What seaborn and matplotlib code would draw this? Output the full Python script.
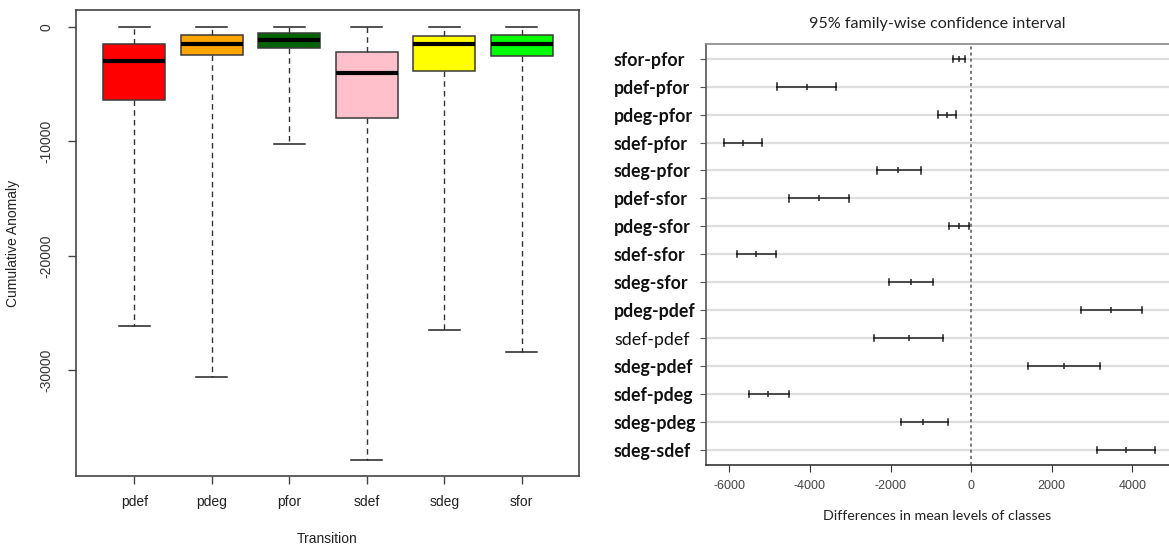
import matplotlib
matplotlib.use("Agg")
import matplotlib.pyplot as plt
import seaborn as sns
import pandas as pd
import numpy as np

# boxplot summary
transitions = ["pdef", "pdeg", "pfor", "sdef", "sdeg", "sfor"]
box_colors = ["#ff0000", "#ffa500", "#006400", "#ffc0cb", "#ffff00", "#00ff00"]
whisker_low = [-26100, -30550, -10250, -37800, -26450, -28400]
q1 = [-6400, -2440, -1830, -7990, -3840, -2530]
median = [-2960, -1520, -1130, -4050, -1520, -1520]
q3 = [-1520, -730, -580, -2250, -820, -730]
whisker_high = [-50, 0, 0, -50, 0, 0]

# Tukey HSD intervals
comparisons = ["sfor-pfor", "pdef-pfor", "pdeg-pfor", "sdef-pfor", "sdeg-pfor",
               "pdef-sfor", "pdeg-sfor", "sdef-sfor", "sdeg-sfor", "pdeg-pdef",
               "sdef-pdef", "sdeg-pdef", "sdef-pdeg", "sdeg-pdeg", "sdeg-sdef"]
diff_lwr = [-450, -4830, -830, -6130, -2340, -4510, -560, -5820, -2040, 2730,
            -2420, 1410, -5520, -1750, 3130]
diff_mean = [-295, -4070, -610, -5650, -1820, -3770, -295, -5340, -1500, 3480,
             -1550, 2300, -5030, -1190, 3850]
diff_upr = [-145, -3350, -380, -5180, -1240, -3040, -45, -4840, -940, 4230,
            -690, 3200, -4510, -580, 4570]

# five values per group give exactly these quartiles / whisker ends
rows = []
for i, t in enumerate(transitions):
    for v in [whisker_low[i], q1[i], median[i], q3[i], whisker_high[i]]:
        rows.append({"Transition": t, "Cumulative Anomaly": v})
box_df = pd.DataFrame(rows)

rows = []
for i, c in enumerate(comparisons):
    for v in [diff_lwr[i], diff_mean[i], diff_upr[i]]:
        rows.append({"comparison": c, "diff": v})
tk = pd.DataFrame(rows)

W, H = 1169, 544
fig = plt.figure(figsize=(W / 100, H / 100), dpi=100)

# ---- left: boxplot
ax = fig.add_axes([76 / W, 1 - 476 / H, 503 / W, 466 / H])
sns.boxplot(data=box_df, x="Transition", y="Cumulative Anomaly", hue="Transition",
            order=transitions, hue_order=transitions, palette=box_colors,
            legend=False, saturation=1, whis=(0, 100), width=0.8,
            linecolor="#3a3a3a", linewidth=1.1, ax=ax,
            medianprops={"color": "black", "linewidth": 3},
            whiskerprops={"linestyle": (0, (4, 3)), "color": "#333333", "linewidth": 1},
            capprops={"color": "#222222"})
ax.set_xlim(-0.755, 5.74)
ax.set_ylim(-39230, 1460)
ax.set_yticks([0, -10000, -20000, -30000])
ax.set_yticklabels(["0", "-10000", "-20000", "-30000"], rotation=90, va="center",
                   family="Liberation Sans", fontsize=10, color="#333333")
ax.set_xticks(range(len(transitions)))
ax.set_xticklabels(transitions, family="Liberation Sans", fontsize=10, color="#222222")
ax.tick_params(axis="both", length=6, width=1, color="#444444", pad=8)
ax.tick_params(axis="y", pad=10)
for s in ax.spines.values():
    s.set_color("#444444")
    s.set_linewidth(1.2)
ax.set_xlabel("Transition", family="Liberation Sans", fontsize=10, color="#222222",
              labelpad=16)
ax.set_ylabel("Cumulative Anomaly", family="Liberation Sans", fontsize=10,
              color="#222222", labelpad=14)

# ---- right: Tukey family-wise intervals
ax2 = fig.add_axes([705.6 / W, 1 - 465 / H, (W - 705.6) / W, 421.5 / H])
sns.pointplot(data=tk, x="diff", y="comparison", order=comparisons,
              estimator="median", errorbar=("pi", 100), capsize=0.22,
              linestyle="none", marker="|", markersize=5, markeredgewidth=1.1,
              color="#222222", err_kws={"linewidth": 1.1}, ax=ax2)
ax2.set_xlim(-6590, 4910)
ax2.set_ylim(14.53, -0.54)
ax2.yaxis.grid(True, color="#dedede", linewidth=1.6)
ax2.set_axisbelow(True)
ax2.axvline(0, color="#555555", linestyle=(0, (2, 2)), linewidth=1.1)
ax2.spines["right"].set_visible(False)
ax2.spines["top"].set_color("#888888")
ax2.spines["left"].set_color("#555555")
ax2.spines["bottom"].set_color("#333333")
for s in ax2.spines.values():
    s.set_linewidth(1.2)
ax2.set_xticks([-6000, -4000, -2000, 0, 2000, 4000])
ax2.set_xticklabels(["-6000", "-4000", "-2000", "0", "2000", "4000"],
                    family="Liberation Sans", fontsize=9, color="#444444")
ax2.tick_params(axis="x", length=5, color="#333333", pad=6)
ax2.tick_params(axis="y", length=4, color="#555555", pad=62)
for lab in ax2.get_yticklabels():
    lab.set_ha("left")
    lab.set_family("Lato")
    lab.set_fontsize(12.8)
    lab.set_color("#111111")
    lab.set_weight("normal" if lab.get_text() == "sdef-pdef" else "bold")
ax2.set_ylabel("")
ax2.set_xlabel("Differences in mean levels of classes", family="Lato",
               fontsize=10.3, color="#222222", labelpad=13)
ax2.set_title("95% family-wise confidence interval", family="Lato", fontsize=11.6,
              color="#222222", pad=11)

fig.savefig("out.png", dpi=100)
